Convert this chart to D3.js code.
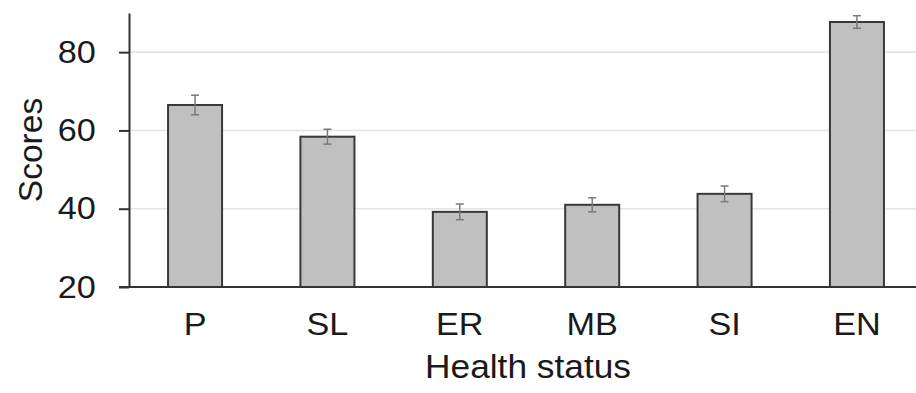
<!DOCTYPE html>
<html>
<head>
<meta charset="utf-8">
<script src="https://cdn.jsdelivr.net/npm/d3@7"></script>
<style>
  html, body { margin: 0; padding: 0; background: #fff; }
  svg { display: block; font-family: "Liberation Sans", Arial, sans-serif; }
</style>
</head>
<body>
<svg id="chart" width="916" height="393"></svg>
<script>
// Mean scores by health status, with their error (± value)
const categories = ["P", "SL", "ER", "MB", "SI", "EN"];
const scores = [66.5, 58.4, 39.2, 41.0, 43.8, 87.7];
const errors = [2.5, 1.9, 2.0, 1.8, 2.0, 1.6];
const yTicks = [20, 40, 60, 80];

const svg = d3.select("#chart");
const plotLeft = 129, plotRight = 923, plotTop = 13, plotBottom = 287;
const stretch = 1.07; // glyphs are drawn slightly wide

const x = d3.scaleBand()
  .domain(categories)
  .range([plotLeft, plotRight])
  .paddingInner(0.592)
  .paddingOuter(0.295);

const y = d3.scaleLinear()
  .domain([20, 90])
  .range([plotBottom, plotTop]);

// horizontal gridlines
svg.append("g")
  .selectAll("line")
  .data(yTicks.filter(d => d > 20))
  .join("line")
  .attr("x1", plotLeft)
  .attr("x2", 916)
  .attr("y1", d => y(d))
  .attr("y2", d => y(d))
  .attr("stroke", "#e4e4e4")
  .attr("stroke-width", 1.6);

// bars
svg.append("g")
  .selectAll("rect")
  .data(categories)
  .join("rect")
  .attr("x", d => x(d))
  .attr("width", x.bandwidth())
  .attr("y", (d, i) => y(scores[i]))
  .attr("height", (d, i) => y(20) - y(scores[i]))
  .attr("fill", "#c0c0c0")
  .attr("stroke", "#383838")
  .attr("stroke-width", 2);

// error bars
const eb = svg.append("g")
  .attr("stroke", "#7a7a7a")
  .attr("stroke-width", 1.5);
categories.forEach((c, i) => {
  const cx = x(c) + x.bandwidth() / 2;
  const hi = y(scores[i] + errors[i]);
  const lo = y(scores[i] - errors[i]);
  eb.append("line").attr("x1", cx).attr("x2", cx).attr("y1", hi).attr("y2", lo);
  eb.append("line").attr("x1", cx - 4).attr("x2", cx + 4).attr("y1", hi).attr("y2", hi);
  eb.append("line").attr("x1", cx - 4).attr("x2", cx + 4).attr("y1", lo).attr("y2", lo);
});

// y axis
const yAxis = svg.append("g")
  .attr("transform", `translate(${plotLeft},0)`)
  .call(d3.axisLeft(y).tickValues(yTicks).tickSizeInner(10).tickSizeOuter(0).tickPadding(21));
yAxis.select(".domain").attr("stroke", "#333").attr("stroke-width", 2);
yAxis.selectAll(".tick line").attr("stroke", "#333").attr("stroke-width", 2);
yAxis.selectAll(".tick text")
  .attr("font-size", 32)
  .attr("fill", "#1a1a1a")
  .attr("font-family", "Liberation Sans, Arial, sans-serif")
  .attr("transform", `scale(${stretch},1)`);

// x axis
const xAxis = svg.append("g")
  .attr("transform", `translate(0,${plotBottom})`)
  .call(d3.axisBottom(x).tickSize(0).tickPadding(25));
xAxis.select(".domain").attr("stroke", "#333").attr("stroke-width", 2)
  .attr("d", `M${plotLeft - 10},0H916`);
xAxis.selectAll(".tick text")
  .attr("font-size", 32)
  .attr("fill", "#1a1a1a")
  .attr("font-family", "Liberation Sans, Arial, sans-serif")
  .attr("transform", `scale(${stretch},1)`);

// axis titles
svg.append("text")
  .attr("transform", `translate(528,378) scale(${stretch},1)`)
  .attr("text-anchor", "middle")
  .attr("font-size", 33)
  .attr("fill", "#1a1a1a")
  .text("Health status");

svg.append("text")
  .attr("transform", `translate(42,${(plotTop + plotBottom) / 2}) rotate(-90)`)
  .attr("text-anchor", "middle")
  .attr("font-size", 33.5)
  .attr("fill", "#1a1a1a")
  .text("Scores");
</script>
</body>
</html>
